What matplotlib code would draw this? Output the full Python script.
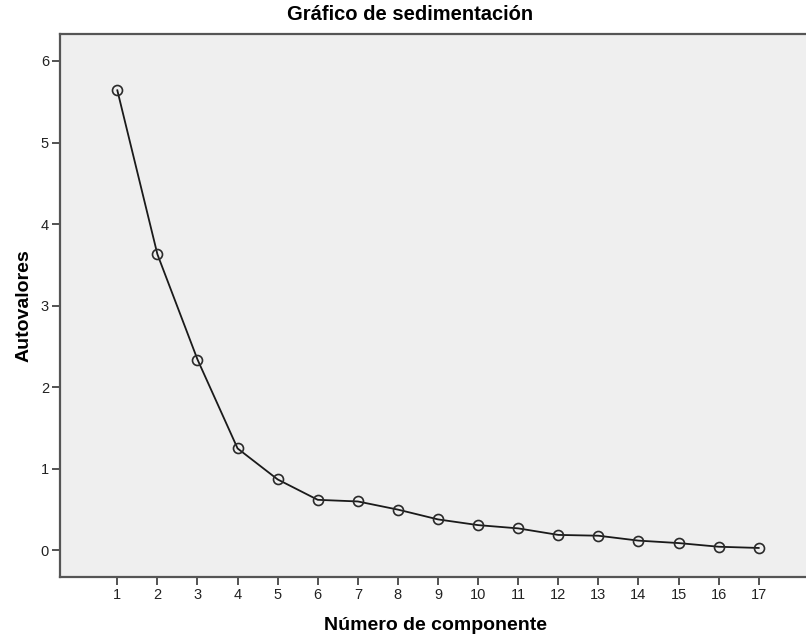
import matplotlib
matplotlib.use('Agg')
import matplotlib.pyplot as plt

# Scree plot values (eigenvalues per component)
componentes = list(range(1, 18))
autovalores = [5.64, 3.63, 2.34, 1.25, 0.87, 0.62, 0.60, 0.50, 0.38,
               0.31, 0.27, 0.19, 0.18, 0.12, 0.09, 0.045, 0.03]
y_ticks = [0, 1, 2, 3, 4, 5, 6]

plt.rcParams['font.family'] = ['Liberation Sans', 'DejaVu Sans']

fig = plt.figure(figsize=(8.06, 6.38), dpi=100)
W, H = 806, 638
# axes box in pixels: left 60, top 34, bottom 577, right at image edge
ax = fig.add_axes([60 / W, 1 - 577 / H, (806 - 60) / W, (577 - 34) / H])
ax.set_facecolor('#efefef')

ax.plot(componentes, autovalores, color='#1a1a1a', linewidth=1.3,
        marker='o', markersize=7.2, markerfacecolor='none',
        markeredgecolor='#2a2a2a', markeredgewidth=1.2)

ax.set_xlim(-0.43, 18.18)
ax.set_ylim(-0.326, 6.33)
ax.set_xticks(componentes)
ax.set_yticks(y_ticks)

for side in ['left', 'bottom', 'top']:
    ax.spines[side].set_color('#555555')
    ax.spines[side].set_linewidth(1.6)
ax.spines['right'].set_visible(False)

ax.tick_params(axis='both', length=6, width=1.3, color='#444444',
               labelsize=10.5, labelcolor='#222222', pad=2)

fig.text(410 / W, 1 - 14 / H, 'Gráfico de sedimentación', ha='center', va='center',
         fontsize=14.5, fontweight='bold')
fig.text(436 / W, 1 - 626 / H, 'Número de componente', ha='center', va='center',
         fontsize=14, fontweight='bold')
fig.text(24 / W, 1 - 306 / H, 'Autovalores', ha='center', va='center',
         rotation=90, fontsize=14, fontweight='bold')

fig.savefig('out.png', dpi=100)
